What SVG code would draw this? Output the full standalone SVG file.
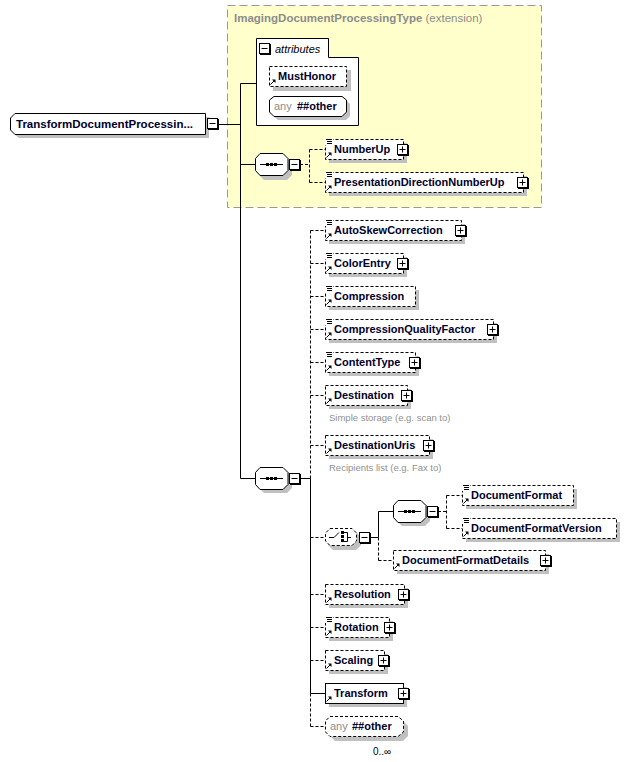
<svg xmlns="http://www.w3.org/2000/svg" xmlns:xlink="http://www.w3.org/1999/xlink" width="644" height="762" viewBox="0 0 644 762">
<style>
.sh{fill:#c0c0c0;stroke:none}
.box{fill:#fff;stroke:#000;stroke-width:1;stroke-dasharray:3,2}
.sbox{fill:#fff;stroke:#000;stroke-width:1}
.t{font-family:"Liberation Sans",Arial,sans-serif;font-size:11px;font-weight:bold;fill:#00002a}
.g{font-family:"Liberation Sans",Arial,sans-serif;font-size:11px;fill:#8c8c8c}
.ann{font-family:"Liberation Sans",Arial,sans-serif;font-size:9.5px;fill:#909090}
.c{stroke:#000;stroke-width:1;fill:none}
.d{stroke-dasharray:3,2}
</style>
<defs>
<g id="plus"><rect x="1" y="1" width="11" height="11" fill="#000"/><rect x="0.5" y="0.5" width="10" height="10" fill="#fff" stroke="#000"/><path d="M2.5,5.5H8.5M5.5,2.5V8.5" stroke="#000" fill="none"/></g>
<g id="minus"><rect x="1" y="1" width="11" height="11" fill="#000"/><rect x="0.5" y="0.5" width="10" height="10" fill="#fff" stroke="#000"/><path d="M2.5,5.5H8.5" stroke="#000" fill="none"/></g>
<g id="doc"><rect x="0" y="-1" width="8" height="6" fill="#fff"/><path d="M1,-0.5H7M2,1.5H7M2,3.5H7" stroke="#000" fill="none"/></g>
<g id="arr"><path d="M1.5,-1.5L5,-5" stroke="#000" fill="none"/><polygon points="3,-6.5 6.5,-6.5 6.5,-3" fill="#000"/></g>
<g id="seqicon"><path d="M5,11.5H28" stroke="#000" fill="none"/><rect x="11" y="10" width="3" height="3" fill="#000"/><rect x="15" y="10" width="3" height="3" fill="#000"/><rect x="19" y="10" width="3" height="3" fill="#000"/></g>
</defs>

<!-- extension area -->
<g id="ext">
<rect x="227.5" y="5.5" width="314" height="202" fill="#ffffcc" stroke="#999" stroke-dasharray="8,4"/>
<text x="234" y="22" style="font-family:'Liberation Sans',Arial,sans-serif;font-size:11.5px"><tspan font-weight="bold" fill="#8c8c8c">ImagingDocumentProcessingType</tspan><tspan fill="#8c8c8c"> (extension)</tspan></text>
</g>

<!-- connectors -->
<g id="connectors">
<path class="c" d="M218,124.5H240.5M240.5,83.5V478.5M240.5,83.5H256M240.5,164.5H255M240.5,478.5H255"/>
<path class="c d" d="M300,164.5H309.5M309.5,149.5V182.5M309.5,149.5H325M309.5,182.5H325"/>
<path class="c" d="M300,478.5H310.5M310.5,478.5V693.5M310.5,693.5H325"/>
<path class="c d" d="M310.5,230.5V478.5M310.5,693.5V726.5"/>
<path class="c d" d="M310.5,230.5H325M310.5,263.5H325M310.5,296.5H325M310.5,329.5H325M310.5,362.5H325M310.5,395.5H325M310.5,445.5H325M310.5,537.5H325M310.5,594.5H325M310.5,627.5H325M310.5,660.5H325M310.5,726.5H325"/>
<path class="c" d="M370,537.5H378.5M378.5,511.5V537.5M378.5,511.5H393"/>
<path class="c d" d="M378.5,537.5V560.5M378.5,560.5H393M438,511.5H446.5M446.5,495.5V528.5M446.5,495.5H462M446.5,528.5H462"/>
</g>

<!-- root -->
<g id="root">
<path class="sh" d="M19,117H209V138H19L14,134V122Z"/>
<path class="sbox" d="M15,113.5H205.5V134.5H15L10.5,130V118Z"/>
<text class="t" x="16" y="128" style="font-size:11.5px">TransformDocumentProcessin...</text>
<use xlink:href="#minus" x="207" y="118"/>
</g>

<!-- attributes -->
<g id="attributes">
<path fill="#fff" stroke="#000" d="M256.5,38.5H328.5V57.5H358.5V125.5H256.5Z"/>
<use xlink:href="#minus" x="259" y="43"/>
<text x="275" y="53" style="font-family:'Liberation Sans',Arial,sans-serif;font-size:11px;font-style:italic" fill="#000">attributes</text>
</g>
<g id="MustHonor">
<rect class="sh" x="273" y="70" width="78" height="21"/>
<rect class="box" x="269.5" y="66.5" width="77" height="20"/>
<use xlink:href="#arr" x="269" y="86"/>
<text class="t" x="278" y="80">MustHonor</text>
</g>
<g id="anyAttr">
<path class="sh" d="M278,100H346L350,104V116L346,120H278L273,116V104Z"/>
<path class="sbox" d="M274,96.5H342L346.5,100V112L342,116.5H274L269.5,112V100Z"/>
<text x="274" y="110"><tspan class="g">any</tspan><tspan class="t" x="297">##other</tspan></text>
</g>

<!-- sequence 1 -->
<g id="seq1">
<path class="sh" d="M264,158H287L292,163V175L287,180H264L259,175V163Z"/>
<path class="sbox" d="M260,153.5H283L288,158.5V170.5L283,175.5H260L255.5,170.5V158.5Z"/>
<use xlink:href="#seqicon" x="255" y="153"/>
<use xlink:href="#minus" x="289" y="159"/>
</g>
<g id="NumberUp">
<rect class="sh" x="329" y="143" width="78" height="20"/>
<rect class="box" x="325.5" y="139.5" width="78" height="20"/>
<use xlink:href="#doc" x="325" y="140"/>
<use xlink:href="#arr" x="325" y="159"/>
<text class="t" x="334" y="153">NumberUp</text>
<use xlink:href="#plus" x="397" y="144"/>
</g>
<g id="PresentationDirectionNumberUp">
<rect class="sh" x="329" y="176" width="198" height="20"/>
<rect class="box" x="325.5" y="172.5" width="198" height="20"/>
<use xlink:href="#doc" x="325" y="173"/>
<use xlink:href="#arr" x="325" y="192"/>
<text class="t" x="334" y="186">PresentationDirectionNumberUp</text>
<use xlink:href="#plus" x="517" y="177"/>
</g>

<!-- sequence 2 -->
<g id="seq2">
<path class="sh" d="M264,471H287L292,476V488L287,493H264L259,488V476Z"/>
<path class="sbox" d="M260,467.5H283L288,472.5V484.5L283,489.5H260L255.5,484.5V472.5Z"/>
<use xlink:href="#seqicon" x="255" y="467"/>
<use xlink:href="#minus" x="289" y="473"/>
</g>

<g id="AutoSkewCorrection">
<rect class="sh" x="329" y="224" width="136" height="20"/>
<rect class="box" x="325.5" y="220.5" width="136" height="20"/>
<use xlink:href="#doc" x="325" y="221"/>
<use xlink:href="#arr" x="325" y="240"/>
<text class="t" x="334" y="234">AutoSkewCorrection</text>
<use xlink:href="#plus" x="455" y="225"/>
</g>
<g id="ColorEntry">
<rect class="sh" x="329" y="257" width="78" height="20"/>
<rect class="box" x="325.5" y="253.5" width="78" height="20"/>
<use xlink:href="#doc" x="325" y="254"/>
<use xlink:href="#arr" x="325" y="273"/>
<text class="t" x="334" y="267">ColorEntry</text>
<use xlink:href="#plus" x="397" y="258"/>
</g>
<g id="Compression">
<rect class="sh" x="329" y="290" width="90" height="20"/>
<rect class="box" x="325.5" y="286.5" width="90" height="20"/>
<use xlink:href="#doc" x="325" y="287"/>
<use xlink:href="#arr" x="325" y="306"/>
<text class="t" x="334" y="300">Compression</text>
</g>
<g id="CompressionQualityFactor">
<rect class="sh" x="329" y="323" width="168" height="20"/>
<rect class="box" x="325.5" y="319.5" width="168" height="20"/>
<use xlink:href="#doc" x="325" y="320"/>
<use xlink:href="#arr" x="325" y="339"/>
<text class="t" x="334" y="333">CompressionQualityFactor</text>
<use xlink:href="#plus" x="487" y="324"/>
</g>
<g id="ContentType">
<rect class="sh" x="329" y="356" width="90" height="20"/>
<rect class="box" x="325.5" y="352.5" width="90" height="20"/>
<use xlink:href="#doc" x="325" y="353"/>
<use xlink:href="#arr" x="325" y="372"/>
<text class="t" x="334" y="366">ContentType</text>
<use xlink:href="#plus" x="409" y="357"/>
</g>
<g id="Destination">
<rect class="sh" x="329" y="389" width="82" height="20"/>
<rect class="box" x="325.5" y="385.5" width="82" height="20"/>
<use xlink:href="#arr" x="325" y="405"/>
<text class="t" x="334" y="399">Destination</text>
<use xlink:href="#plus" x="401" y="390"/>
<text class="ann" x="329" y="421">Simple storage (e.g. scan to)</text>
</g>
<g id="DestinationUris">
<rect class="sh" x="329" y="439" width="104" height="20"/>
<rect class="box" x="325.5" y="435.5" width="104" height="20"/>
<use xlink:href="#arr" x="325" y="455"/>
<text class="t" x="334" y="449">DestinationUris</text>
<use xlink:href="#plus" x="423" y="440"/>
<text class="ann" x="329" y="471">Recipients list (e.g. Fax to)</text>
</g>

<!-- choice -->
<g id="choice">
<path class="sh" d="M333,532H356L361,537V545L356,550H333L328,545V537Z"/>
<path class="box" d="M330,528.5H352L356.5,533V541L352,545.5H330L325.5,541V533Z"/>
<path d="M329,537.5H334L339,532.5" stroke="#000" fill="none"/>
<rect x="341" y="531" width="3" height="3" fill="#000"/>
<rect x="341" y="535" width="3" height="3" fill="#000"/>
<rect x="341" y="539" width="3" height="3" fill="#000"/>
<path d="M344,532.5H347.5V541.5H344M347.5,537.5H351" stroke="#000" fill="none"/>
<use xlink:href="#minus" x="359" y="532"/>
</g>
<g id="seq3">
<path class="sh" d="M402,504H425L430,509V521L425,526H402L397,521V509Z"/>
<path class="sbox" d="M398,500.5H421L426,505.5V517.5L421,522.5H398L393.5,517.5V505.5Z"/>
<use xlink:href="#seqicon" x="393" y="500"/>
<use xlink:href="#minus" x="427" y="506"/>
</g>
<g id="DocumentFormat">
<rect class="sh" x="466" y="489" width="111" height="20"/>
<rect class="box" x="462.5" y="485.5" width="111" height="20"/>
<use xlink:href="#doc" x="462" y="486"/>
<use xlink:href="#arr" x="462" y="505"/>
<text class="t" x="471" y="499">DocumentFormat</text>
</g>
<g id="DocumentFormatVersion">
<rect class="sh" x="466" y="522" width="154" height="20"/>
<rect class="box" x="462.5" y="518.5" width="154" height="20"/>
<use xlink:href="#doc" x="462" y="519"/>
<use xlink:href="#arr" x="462" y="538"/>
<text class="t" x="471" y="532">DocumentFormatVersion</text>
</g>
<g id="DocumentFormatDetails">
<rect class="sh" x="397" y="554" width="152" height="20"/>
<rect class="box" x="393.5" y="550.5" width="152" height="20"/>
<use xlink:href="#arr" x="393" y="570"/>
<text class="t" x="402" y="564">DocumentFormatDetails</text>
<use xlink:href="#plus" x="540" y="555"/>
</g>

<g id="Resolution">
<rect class="sh" x="329" y="588" width="79" height="20"/>
<rect class="box" x="325.5" y="584.5" width="79" height="20"/>
<use xlink:href="#arr" x="325" y="604"/>
<text class="t" x="334" y="598">Resolution</text>
<use xlink:href="#plus" x="398" y="589"/>
</g>
<g id="Rotation">
<rect class="sh" x="329" y="621" width="64" height="20"/>
<rect class="box" x="325.5" y="617.5" width="64" height="20"/>
<use xlink:href="#doc" x="325" y="618"/>
<use xlink:href="#arr" x="325" y="637"/>
<text class="t" x="334" y="631">Rotation</text>
<use xlink:href="#plus" x="384" y="622"/>
</g>
<g id="Scaling">
<rect class="sh" x="329" y="654" width="59" height="20"/>
<rect class="box" x="325.5" y="650.5" width="59" height="20"/>
<use xlink:href="#arr" x="325" y="670"/>
<text class="t" x="334" y="664">Scaling</text>
<use xlink:href="#plus" x="378" y="655"/>
</g>
<g id="Transform">
<rect class="sh" x="329" y="687" width="78" height="20"/>
<rect class="sbox" x="325.5" y="683.5" width="78" height="20"/>
<use xlink:href="#arr" x="325" y="703"/>
<text class="t" x="334" y="697">Transform</text>
<use xlink:href="#plus" x="398" y="688"/>
</g>
<g id="anyElem">
<path class="sh" d="M335,721H403L408,726V736L403,741H335L330,736V726Z"/>
<path class="box" d="M330,716.5H398L403.5,721V732L398,736.5H330L325.5,732V721Z"/>
<text x="330" y="730"><tspan class="g">any</tspan><tspan class="t" x="352">##other</tspan></text>
<text x="373" y="755" style="font-family:'Liberation Sans',Arial,sans-serif;font-size:10px" fill="#000">0..∞</text>
</g>
</svg>
